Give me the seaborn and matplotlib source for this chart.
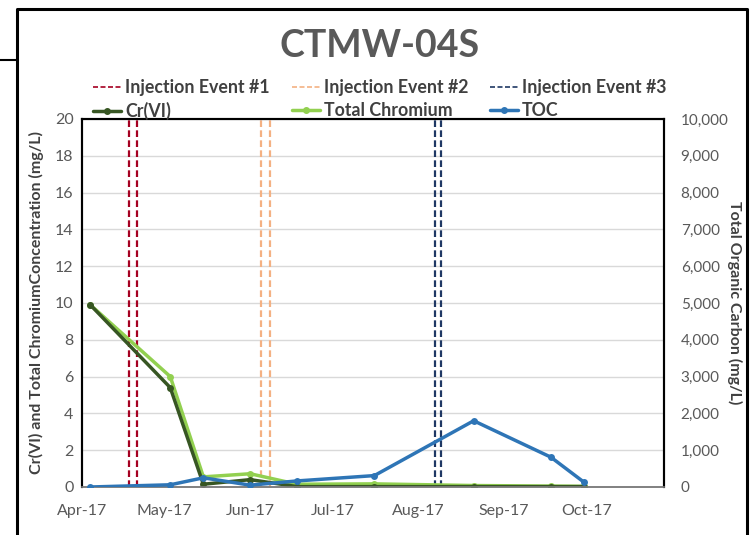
import pandas as pd
import numpy as np
import matplotlib.pyplot as plt
import matplotlib.dates as mdates
from matplotlib.lines import Line2D
from matplotlib.ticker import FuncFormatter
import seaborn as sns

sns.set_style('white')
plt.rcParams['font.family'] = ['Lato', 'DejaVu Sans']

# sampling dates and results
dates = ['2017-04-04', '2017-05-03', '2017-05-15', '2017-06-01', '2017-06-18',
         '2017-07-16', '2017-08-21', '2017-09-18', '2017-09-30']
cr6 = [9.9, 5.4, 0.15, 0.4, 0.02, 0.02, 0.02, 0.02, 0.02]
total_cr = [9.9, 6.0, 0.55, 0.72, 0.15, 0.17, 0.08, 0.05, 0.04]
toc = [0, 60, 250, 50, 165, 310, 1800, 810, 130]

# injection events (start / end)
event_names = ['Injection Event #1', 'Injection Event #2', 'Injection Event #3']
event_dates = [('2017-04-18', '2017-04-21'), ('2017-06-05', '2017-06-08'),
               ('2017-08-07', '2017-08-09')]
event_colors = ['#A50021', '#F4B183', '#1F3864']

df = pd.DataFrame({'date': pd.to_datetime(dates), 'Cr(VI)': cr6,
                   'Total Chromium': total_cr, 'TOC': toc})

c_cr6 = '#375623'
c_tc = '#92D050'
c_toc = '#2E75B6'
grey = '#595959'

fig = plt.figure(figsize=(7.52, 5.35), dpi=100)
ax = fig.add_axes([82 / 752, 48 / 535, 582 / 752, 368 / 535])
ax2 = ax.twinx()

for (d1, d2), col in zip(event_dates, event_colors):
    for d in (d1, d2):
        ax.axvline(pd.Timestamp(d), color=col, ls=(0, (3, 1.5)), lw=1.6, zorder=1)

sns.lineplot(data=df, x='date', y='Cr(VI)', ax=ax, color=c_cr6, lw=2.5,
             marker='o', markersize=5, markeredgewidth=0, zorder=3)
sns.lineplot(data=df, x='date', y='Total Chromium', ax=ax, color=c_tc, lw=2.5,
             marker='o', markersize=5, markeredgewidth=0, zorder=2)
sns.lineplot(data=df, x='date', y='TOC', ax=ax2, color=c_toc, lw=2.5,
             marker='o', markersize=5, markeredgewidth=0, zorder=3)

ax.set_ylim(0, 20)
ax.set_yticks(np.arange(0, 21, 2))
ax2.set_ylim(0, 10000)
ax2.set_yticks(np.arange(0, 10001, 1000))
ax2.yaxis.set_major_formatter(FuncFormatter(lambda v, p: f'{int(v):,}'))
ax.set_xlim(pd.Timestamp('2017-04-01'), pd.Timestamp('2017-10-29'))
ax.xaxis.set_major_locator(mdates.MonthLocator())
ax.xaxis.set_major_formatter(mdates.DateFormatter('%b-%y'))

ax.grid(axis='y', color='#D9D9D9', lw=1)
ax.set_axisbelow(True)
for a in (ax, ax2):
    for s in ['left', 'top', 'right']:
        a.spines[s].set_color('black')
        a.spines[s].set_linewidth(1.5)
    a.spines['bottom'].set_color('#808080')
    a.spines['bottom'].set_linewidth(1.2)
    a.tick_params(labelsize=11.5, colors=grey, length=0, pad=6)
ax.tick_params(axis='x', pad=12)
ax2.tick_params(axis='y', pad=12, labelsize=11)

ax.set_xlabel('')
ax.set_ylabel('Cr(VI) and Total ChromiumConcentration (mg/L)', fontsize=11.5,
              fontweight='bold', color='#404040', labelpad=8)
ax2.set_ylabel('')
fig.text(735 / 752, 1 - 303 / 535, 'Total Organic Carbon (mg/L)', rotation=270,
         ha='center', va='center', fontsize=11.5, fontweight='bold', color='#404040')

fig.text(380 / 752, 1 - 46 / 535, 'CTMW-04S', ha='center', va='center',
         fontsize=27, fontweight='bold', color=grey)

# legend: one column per injection event / series pair
series = [('Cr(VI)', c_cr6), ('Total Chromium', c_tc), ('TOC', c_toc)]
col_x = [93, 292, 490]
for name, col, (sname, scol), x in zip(event_names, event_colors, series, col_x):
    hs = [Line2D([], [], color=col, ls=(0, (3, 1.5)), lw=1.2),
          Line2D([], [], color=scol, lw=2.5, marker='o', markersize=4)]
    leg = fig.legend(hs, [name, sname], loc='upper left',
                     bbox_to_anchor=(x / 752, 1 - 79 / 535), frameon=False,
                     prop={'size': 12.8, 'weight': 'bold'}, handlelength=1.6,
                     handletextpad=0.2, labelspacing=0.35,
                     borderpad=0, borderaxespad=0)
    for t in leg.get_texts():
        t.set_color('#404040')

# outer chart frame
fig.add_artist(Line2D([17 / 752, 17 / 752, 747 / 752, 747 / 752],
                      [0, 1 - 9 / 535, 1 - 9 / 535, 0], color='black', lw=2.2,
                      transform=fig.transFigure))
fig.add_artist(Line2D([0, 17 / 752], [1 - 60 / 535, 1 - 60 / 535], color='black',
                      lw=1.5, transform=fig.transFigure))

fig.savefig('out.png', dpi=100)
